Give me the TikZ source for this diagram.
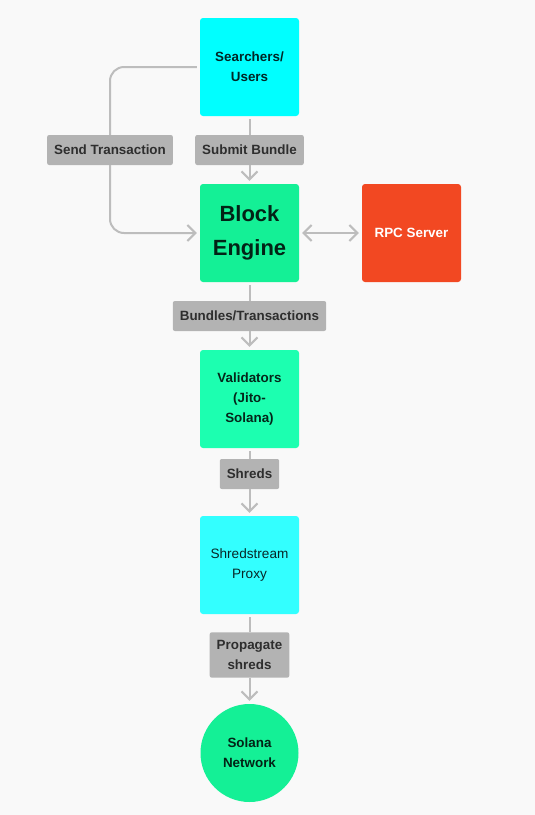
\documentclass[tikz,border=0pt]{standalone}
\usepackage{fontspec}
\setmainfont{Liberation Sans}
\usetikzlibrary{arrows.meta}

\definecolor{bgcol}{HTML}{F9F9F9}
\definecolor{cyanA}{HTML}{00FFFF}
\definecolor{cyanB}{HTML}{33FFFF}
\definecolor{greenA}{HTML}{14F096}
\definecolor{greenB}{HTML}{1CFFB0}
\definecolor{rpcred}{HTML}{F24822}
\definecolor{lblgray}{HTML}{B3B3B3}
\definecolor{linegray}{HTML}{BDBDBD}
\definecolor{lbltext}{HTML}{2E2E2E}

\tikzset{
	box/.style={rounded corners=3pt, minimum width=99pt, minimum height=98pt,
		align=center, text=black, text opacity=0.85,
		font=\bfseries\fontsize{13.4}{20}\selectfont},
	lbl/.style={fill=lblgray, rounded corners=2pt, inner xsep=7pt, inner ysep=8pt,
		minimum height=30pt, align=center, text=lbltext,
		font=\bfseries\fontsize{13.4}{20}\selectfont},
	conn/.style={draw=linegray, line width=2pt},
	tip/.tip={Straight Barb[length=8pt,width=16pt]},
	arr/.style={conn, -tip, shorten >=3pt}
}

\begin{document}
\begin{tikzpicture}[x=1pt,y=-1pt]
	% Background
	\fill[bgcol] (0,0) rectangle (535,815);

	% Boxes
	\node[box, fill=cyanA] (search) at (249.5,67) {Searchers/\\Users};
	\node[box, fill=greenA, font=\bfseries\fontsize{22}{34}\selectfont] (bengine) at (249.5,233) {Block\\Engine};
	\node[box, fill=rpcred, text=white, text opacity=1] (rpc) at (411.5,233) {RPC Server};
	\node[box, fill=greenB] (valid) at (249.5,399) {Validators\\(Jito-\\Solana)};
	\node[box, fill=cyanB, font=\fontsize{13.6}{20}\selectfont] (proxy) at (249.5,565) {Shredstream\\Proxy};
	\node[box, circle, fill=greenA, minimum size=98pt] (solana) at (249.5,753) {Solana\\Network};

	% Edge labels
	\node[lbl] (sendtx) at (110,150) {Send Transaction};
	\node[lbl] (submit) at (249.5,150) {Submit Bundle};
	\node[lbl] (bundles) at (249.5,316) {Bundles/Transactions};
	\node[lbl] (shreds) at (249.5,474) {Shreds};
	\node[lbl] (propag) at (249.5,655) {Propagate\\shreds};

	% Send transaction path
	\draw[conn, rounded corners=14pt, shorten <=3pt] (search.west) -| (sendtx.north);
	\draw[arr, rounded corners=14pt] (sendtx.south) |- (bengine.west);

	% Main flow
	\draw[conn, shorten <=3pt] (search) -- (submit);
	\draw[arr] (submit) -- (bengine);
	\draw[conn, tip-tip, shorten <=3pt, shorten >=3pt] (bengine) -- (rpc);
	\draw[conn, shorten <=3pt] (bengine) -- (bundles);
	\draw[arr] (bundles) -- (valid);
	\draw[conn, shorten <=3pt] (valid) -- (shreds);
	\draw[arr] (shreds) -- (proxy);
	\draw[conn, shorten <=3pt] (proxy) -- (propag);
	\draw[arr] (propag) -- (solana);
\end{tikzpicture}
\end{document}
